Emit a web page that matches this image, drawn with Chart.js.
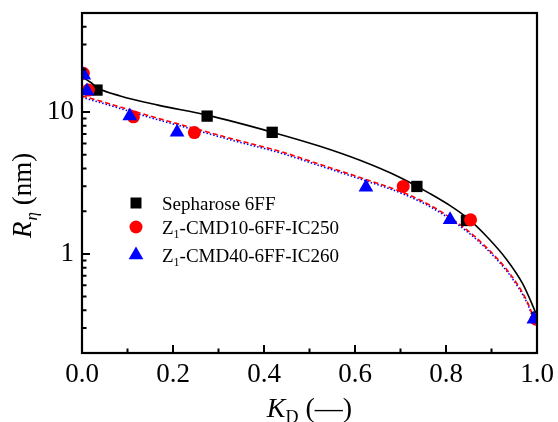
<!DOCTYPE html>
<html><head><meta charset="utf-8">
<script src="https://cdn.jsdelivr.net/npm/chart.js@4/dist/chart.umd.min.js"></script>
<style>html,body{margin:0;padding:0;background:#fff;}#wrap{width:558px;height:422px;}</style>
</head><body><div id="wrap"><canvas id="c" width="558" height="422"></canvas></div>
<script>
// ---- data ----
const seriesNames = ['Sepharose 6FF', 'Z1-CMD10-6FF-IC250', 'Z1-CMD40-6FF-IC260'];

const kdSepharose = [0.033, 0.275, 0.418, 0.736, 0.845, 1.0];
const rSepharose  = [14.3, 9.37, 7.2, 2.99, 1.72, 0.357];

const kdCMD10 = [0.003, 0.014, 0.113, 0.247, 0.706, 0.854, 0.998];
const rCMD10  = [18.8, 14.3, 9.26, 7.17, 2.99, 1.74, 0.346];

const kdCMD40 = [0.004, 0.011, 0.105, 0.209, 0.624, 0.809, 0.993];
const rCMD40  = [18.2, 14.1, 9.37, 7.2, 2.95, 1.74, 0.346];

// fitted curves
const kdFitSepharose = [0.0, 0.018, 0.035, 0.084, 0.167, 0.275, 0.418, 0.523, 0.611, 0.699, 0.765, 0.809, 0.846, 0.890, 0.934, 0.969, 0.991, 1.0];
const rFitSepharose  = [17.7, 16.3, 14.8, 13.0, 11.2, 9.52, 7.22, 5.74, 4.57, 3.46, 2.66, 2.19, 1.80, 1.32, 0.906, 0.612, 0.428, 0.363];

const kdFitCMD10 = [0.0, 0.04, 0.099, 0.150, 0.246, 0.334, 0.435, 0.523, 0.611, 0.706, 0.771, 0.837, 0.890, 0.941, 0.978, 0.996, 1.0];
const rFitCMD10  = [13.0, 11.97, 10.5, 9.37, 7.70, 6.43, 5.29, 4.28, 3.46, 2.71, 2.15, 1.554, 1.103, 0.721, 0.464, 0.335, 0.32];

const kdFitCMD40 = [0.0, 0.04, 0.099, 0.150, 0.246, 0.334, 0.435, 0.523, 0.611, 0.706, 0.771, 0.837, 0.890, 0.941, 0.978, 0.996, 1.0];
const rFitCMD40  = [12.7, 11.68, 10.25, 9.15, 7.52, 6.28, 5.16, 4.18, 3.38, 2.645, 2.10, 1.517, 1.077, 0.704, 0.453, 0.327, 0.313];

const xTickValues = [0, 0.2, 0.4, 0.6, 0.8, 1.0];
const xTickLabels = ['0.0', '0.2', '0.4', '0.6', '0.8', '1.0'];
const xMinorValues = [0.1, 0.3, 0.5, 0.7, 0.9];
const yTickValues = [1, 10];
const yTickLabels = ['1', '10'];
const yMinorValues = [0.3, 0.4, 0.5, 0.6, 0.7, 0.8, 0.9, 2, 3, 4, 5, 6, 7, 8, 9, 20, 30, 40];

// ---- helpers ----
const pts = (xs, ys) => xs.map((x, i) => ({x: x, y: ys[i]}));
const SERIF = '"Liberation Serif", serif';
Chart.defaults.font.family = SERIF;

const framePlugin = {
  id: 'frame',
  afterDraw(chart) {
    const ctx = chart.ctx;
    const a = chart.chartArea;
    const xs = chart.scales.x, ys = chart.scales.y;
    ctx.save();
    ctx.strokeStyle = '#000';
    ctx.lineWidth = 2.2;
    ctx.strokeRect(a.left, a.top, a.right - a.left, a.bottom - a.top);
    ctx.lineWidth = 2;
    ctx.beginPath();
    xTickValues.forEach(v => { const p = xs.getPixelForValue(v); ctx.moveTo(p, a.bottom); ctx.lineTo(p, a.bottom - 8); });
    xMinorValues.forEach(v => { const p = xs.getPixelForValue(v); ctx.moveTo(p, a.bottom); ctx.lineTo(p, a.bottom - 4.5); });
    yTickValues.forEach(v => { const p = ys.getPixelForValue(v); ctx.moveTo(a.left, p); ctx.lineTo(a.left + 8, p); });
    yMinorValues.forEach(v => { const p = ys.getPixelForValue(v); ctx.moveTo(a.left, p); ctx.lineTo(a.left + 4.5, p); });
    ctx.stroke();

    // axis titles
    ctx.fillStyle = '#000';
    ctx.textBaseline = 'alphabetic';
    ctx.textAlign = 'left';
    const fBig = 28, fSub = 18;
    ctx.font = 'italic ' + fBig + 'px ' + SERIF;
    const wK = ctx.measureText('K').width;
    ctx.font = fSub + 'px ' + SERIF;
    const wD = ctx.measureText('D').width;
    ctx.font = fBig + 'px ' + SERIF;
    const wRest = ctx.measureText(' (\u2014)').width;
    const total = wK + wD + wRest;
    let x0 = (a.left + a.right) / 2 - total / 2;
    const by = 417;
    ctx.font = 'italic ' + fBig + 'px ' + SERIF;
    ctx.fillText('K', x0, by);
    ctx.font = fSub + 'px ' + SERIF;
    ctx.fillText('D', x0 + wK, by + 6);
    ctx.font = fBig + 'px ' + SERIF;
    ctx.fillText(' (\u2014)', x0 + wK + wD, by);

    const fY = 27, fYs = 17;
    ctx.save();
    ctx.translate(31, 238);
    ctx.rotate(-Math.PI / 2);
    ctx.font = 'italic ' + fY + 'px ' + SERIF;
    const wR = ctx.measureText('R').width;
    ctx.fillText('R', 0, 0);
    ctx.font = 'italic ' + fYs + 'px ' + SERIF;
    const wE = ctx.measureText('\u03b7').width;
    ctx.fillText('\u03b7', wR + 1, 6);
    ctx.font = fY + 'px ' + SERIF;
    ctx.fillText(' (nm)', wR + 1 + wE, 0);
    ctx.restore();

    // legend
    const lx = 136, tx = 162;
    const rows = [
      {y: 203, color: '#000000', style: 'rect', name: seriesNames[0]},
      {y: 227, color: '#ff0000', style: 'circle', name: seriesNames[1]},
      {y: 255, color: '#0000ff', style: 'triangle', name: seriesNames[2]}
    ];
    rows.forEach(r => {
      ctx.fillStyle = r.color;
      ctx.beginPath();
      if (r.style === 'rect') { ctx.rect(lx - 5.5, r.y - 5.5, 11, 11); }
      else if (r.style === 'circle') { ctx.arc(lx, r.y, 6.5, 0, Math.PI * 2); }
      else { const rr = 8.5; ctx.moveTo(lx, r.y - rr); ctx.lineTo(lx + rr * 0.866, r.y + rr / 2); ctx.lineTo(lx - rr * 0.866, r.y + rr / 2); ctx.closePath(); }
      ctx.fill();
      ctx.fillStyle = '#000';
      const base = r.y + 7;
      ctx.font = '19px ' + SERIF;
      if (r.name.startsWith('Z1')) {
        ctx.fillText('Z', tx, base);
        const wz = ctx.measureText('Z').width;
        ctx.font = '12px ' + SERIF;
        ctx.fillText('1', tx + wz, base + 4);
        const w1 = ctx.measureText('1').width;
        ctx.font = '19px ' + SERIF;
        ctx.fillText(r.name.slice(2), tx + wz + w1, base);
      } else {
        ctx.fillText(r.name, tx, base);
      }
    });
    ctx.restore();
  }
};

const lineDs = (label, xs, ys, color, dash, order) => ({
  label: label, data: pts(xs, ys), showLine: true, pointRadius: 0,
  borderColor: color, borderWidth: 1.6, borderDash: dash, fill: false,
  cubicInterpolationMode: 'monotone', order: order
});
const pointDs = (label, xs, ys, color, style, radius, order) => ({
  label: label, data: pts(xs, ys), showLine: false, pointStyle: style,
  pointRadius: radius, pointBackgroundColor: color, pointBorderColor: color,
  pointBorderWidth: 0, order: order
});

new Chart(document.getElementById('c'), {
  type: 'scatter',
  data: {
    datasets: [
      pointDs(seriesNames[2], kdCMD40, rCMD40, '#0000ff', 'triangle', 8.5, 0),
      pointDs(seriesNames[1], kdCMD10, rCMD10, '#ff0000', 'circle', 6.5, 1),
      pointDs(seriesNames[0], kdSepharose, rSepharose, '#000000', 'rect', 8, 2),
      lineDs('fit ' + seriesNames[0], kdFitSepharose, rFitSepharose, '#000000', [], 3),
      lineDs('fit ' + seriesNames[1], kdFitCMD10, rFitCMD10, '#ff0000', [5, 3], 4),
      lineDs('fit ' + seriesNames[2], kdFitCMD40, rFitCMD40, '#0000ff', [1.5, 2], 5)
    ]
  },
  options: {
    responsive: false, animation: false, devicePixelRatio: 1,
    layout: {padding: {top: 13, right: 21, left: 0, bottom: 0}},
    plugins: {legend: {display: false}, tooltip: {enabled: false}},
    scales: {
      x: {
        type: 'linear', min: 0, max: 1, position: 'bottom',
        grid: {display: false, drawTicks: false}, border: {display: false},
        afterBuildTicks: s => { s.ticks = xTickValues.map(v => ({value: v})); },
        afterFit: s => { s.height = 69; s.paddingLeft = 0; s.paddingRight = 0; s.paddingTop = 0; s.paddingBottom = 0; },
        ticks: {color: '#000', padding: 6, maxRotation: 0, autoSkip: false,
          font: {family: SERIF, size: 27},
          callback: (v, i) => xTickLabels[i]}
      },
      y: {
        type: 'logarithmic', min: 0.2, max: 50, position: 'left',
        grid: {display: false, drawTicks: false}, border: {display: false},
        afterBuildTicks: s => { s.ticks = yTickValues.map(v => ({value: v})); },
        afterFit: s => { s.width = 82; s.paddingLeft = 0; s.paddingRight = 0; s.paddingTop = 0; s.paddingBottom = 0; },
        ticks: {color: '#000', padding: 8, autoSkip: false,
          font: {family: SERIF, size: 27},
          callback: (v, i) => yTickLabels[i]}
      }
    }
  },
  plugins: [framePlugin]
});
</script>
</body></html>
